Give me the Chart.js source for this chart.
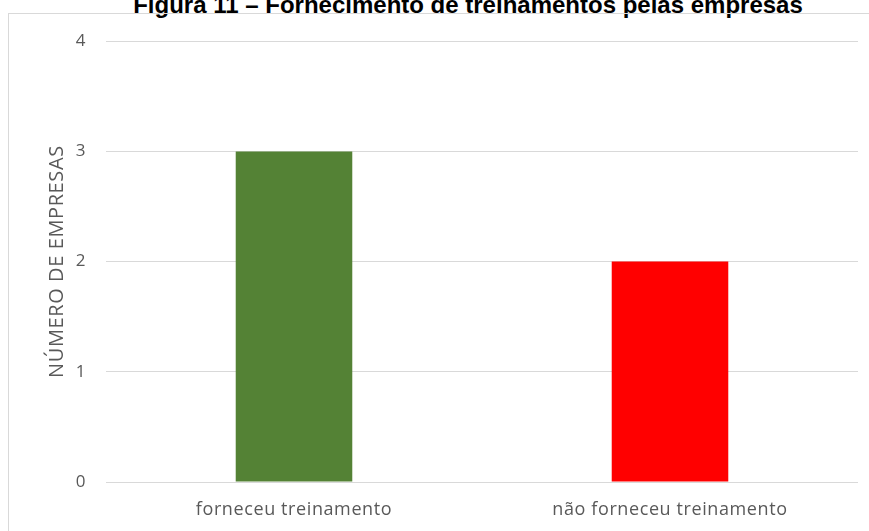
<!DOCTYPE html>
<html>
<head>
<meta charset="utf-8">
<script src="https://cdn.jsdelivr.net/npm/chart.js@4/dist/chart.umd.min.js"></script>
<style>
  html, body { margin: 0; padding: 0; background: #fff; overflow: hidden; }
  .page { position: relative; width: 869px; height: 531px; overflow: hidden; }
  .fig_title {
    position: absolute; left: 0; width: 936px; top: -9px;
    text-align: center; white-space: nowrap;
    font: bold 24px "Liberation Sans", Arial, sans-serif; color: #000;
  }
  .frame {
    position: absolute; left: 8px; top: 13px; width: 880px; height: 540px;
    border: 1px solid #d9d9d9; box-sizing: border-box;
  }
  .chart_box { position: absolute; left: 10px; top: 11px; width: 859px; height: 520px; }
</style>
</head>
<body>
<div class="page">
  <div class="fig_title">Figura 11 – Fornecimento de treinamentos pelas empresas</div>
  <div class="frame"></div>
  <div class="chart_box"><canvas id="myChart"></canvas></div>
</div>
<script>
// companies that did / did not provide training
const categories = ['forneceu treinamento', 'não forneceu treinamento'];
const empresas = [3, 2];
const barColors = ['#548235', '#ff0000'];
const yTicks = [0, 1, 2, 3, 4];

const fontFamily = '"Open Sans", Lato, sans-serif';

// slightly looser text, like the office-style labels
const spacing = {
  id: 'spacing',
  beforeDraw: (chart) => { chart.ctx.letterSpacing = '0.6px'; }
};

const ctx = document.getElementById('myChart').getContext('2d');
new Chart(ctx, {
  type: 'bar',
  data: {
    labels: categories,
    datasets: [
      {
        data: empresas,
        backgroundColor: barColors,
        borderWidth: 0,
        barPercentage: 0.31,
        categoryPercentage: 1
      }
    ]
  },
  options: {
    responsive: true,
    maintainAspectRatio: false,
    animation: false,
    layout: { padding: { top: 0, right: 11, left: 0, bottom: 0 } },
    plugins: {
      legend: { display: false },
      tooltip: { enabled: false }
    },
    scales: {
      x: {
        grid: { display: false, drawTicks: false },
        border: { display: false },
        ticks: { color: '#595959', font: { family: fontFamily, size: 18 }, padding: 17 },
        afterFit: (scale) => { scale.height = 49; }
      },
      y: {
        min: 0,
        max: 4,
        afterBuildTicks: (scale) => { scale.ticks = yTicks.map(v => ({ value: v })); },
        grid: { color: '#d9d9d9', lineWidth: 1, drawTicks: false },
        border: { display: false },
        ticks: { color: '#595959', font: { family: fontFamily, size: 17 }, padding: 20 },
        title: {
          display: true,
          text: 'NÚMERO DE EMPRESAS',
          color: '#595959',
          font: { family: fontFamily, size: 20 },
          padding: { top: 35, bottom: 0 }
        },
        afterFit: (scale) => { scale.width = 96; }
      }
    }
  },
  plugins: [spacing]
});
</script>
</body>
</html>
